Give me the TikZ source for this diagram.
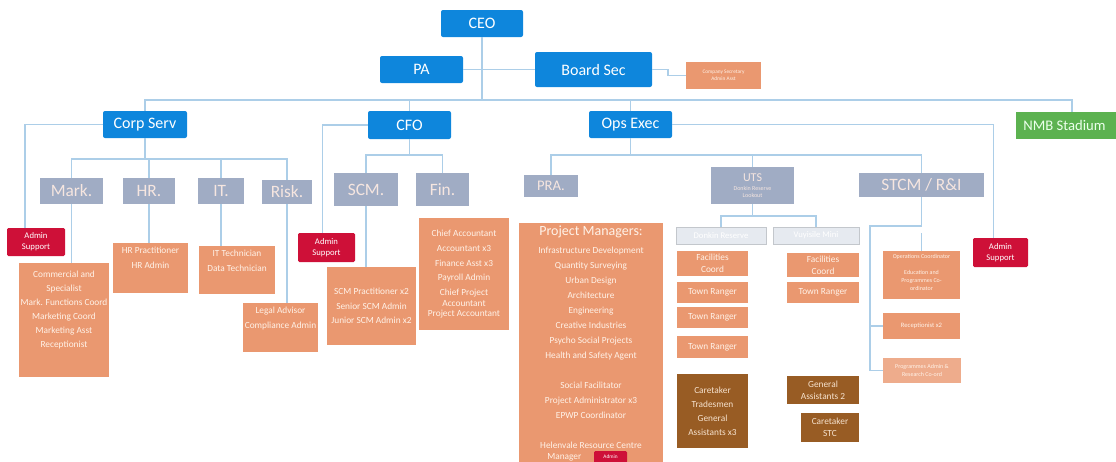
\documentclass[tikz,border=0pt]{standalone}
\usepackage{fontspec}
\setmainfont{Carlito}
\usetikzlibrary{calc}
\definecolor{cblue}{RGB}{14,134,220}
\definecolor{cgray}{RGB}{160,172,196}
\definecolor{cgraytxt}{RGB}{246,230,224}
\definecolor{corange}{RGB}{234,152,112}
\definecolor{corangel}{RGB}{238,172,140}
\definecolor{corangetxt}{RGB}{255,242,232}
\definecolor{cred}{RGB}{206,16,56}
\definecolor{cgreen}{RGB}{92,178,80}
\definecolor{cbrown}{RGB}{152,92,36}
\definecolor{cbrowntxt}{RGB}{246,226,206}
\definecolor{cpale}{RGB}{230,234,240}
\definecolor{cline}{RGB}{172,206,232}
\newcommand\bx[7]{\node[#2, minimum width={(#5-#3)*0.75pt}, minimum height={(#6-#4)*0.75pt}] (#1) at ({(#3+#5)/2},{(#4+#6)/2}) {#7};}
\tikzset{
  base/.style={rectangle, inner sep=1pt, outer sep=0pt, align=center},
  bluebox/.style={base, fill=cblue, text=white, rounded corners=1.5pt, font=\fontsize{12}{14}\selectfont},
  graybox/.style={base, fill=cgray, text=cgraytxt, font=\fontsize{13}{15}\selectfont},
  orangebox/.style={base, fill=corange, text=corangetxt, font=\fontsize{7}{9}\selectfont},
  redbox/.style={base, fill=cred, text=white, rounded corners=1pt, font=\fontsize{6.5}{8}\selectfont},
  greenbox/.style={base, fill=cgreen, text=white!92!green, font=\fontsize{12}{14}\selectfont},
  brownbox/.style={base, fill=cbrown, text=cbrowntxt, font=\fontsize{7}{9}\selectfont},
  palebox/.style={base, fill=cpale, draw=cpale!85!black, line width=0.3pt, text=white, font=\fontsize{6.5}{8}\selectfont},
  otext/.style={anchor=north, inner sep=0pt, align=center, text=corangetxt, font=\fontsize{7}{11}\selectfont},
  conn/.style={draw=cline, line width=0.9pt}
}
\begin{document}
\begin{tikzpicture}[x=0.75pt,y=-0.75pt]
\useasboundingbox (0,0) rectangle (1116,461);
\clip (0,0) rectangle (1116,461);
% top level
\bx{ceo}{bluebox}{441}{10}{523}{37}{CEO}
\bx{pa}{bluebox}{380}{56}{463}{83}{PA}
\bx{bs}{bluebox}{535}{52}{652}{87}{Board Sec}
\bx{cosec}{orangebox,font=\fontsize{4}{5}\selectfont}{686}{62}{761}{89}{Company Secretary\\Admin Asst}
\bx{cs}{bluebox}{103}{111}{187}{138}{Corp Serv}
\bx{cfo}{bluebox}{368}{111}{451}{139}{CFO}
\bx{ops}{bluebox}{589}{111}{672}{138}{Ops Exec}
\bx{nmb}{greenbox}{1016}{112}{1135}{139}{}
\node[anchor=west, inner sep=0pt, text=white!92!green, font=\fontsize{11}{13}\selectfont] (nmb-t) at (1023,125.5) {NMB Stadium};
% second level
\bx{mark}{graybox}{40}{178}{103}{204}{Mark.}
\bx{hr}{graybox}{123}{178}{175}{204}{HR.}
\bx{it}{graybox}{198}{178}{244}{204}{IT.}
\bx{risk}{graybox}{262}{180}{312}{204}{Risk.}
\bx{scm}{graybox}{334}{173}{398}{206}{SCM.}
\bx{fin}{graybox}{416}{173}{469}{206}{Fin.}
\bx{pra}{graybox,font=\fontsize{11}{13}\selectfont}{524}{175}{578}{197}{PRA.}
\bx{uts}{graybox,font=\fontsize{4.5}{5.5}\selectfont}{711}{167}{794}{204}{\fontsize{9}{9}\selectfont UTS\\[1pt]Donkin Reserve\\Lookout}
\bx{stcm}{graybox}{859}{173}{984}{197}{STCM / R\&I}
% admin support
\bx{adm1}{redbox}{7}{228}{65}{256}{Admin\\Support}
\bx{adm2}{redbox}{298}{233}{355}{262}{Admin\\Support}
\bx{adm3}{redbox}{973}{238}{1028}{267}{Admin\\Support}
% orange list boxes
\bx{mkbox}{orangebox}{19}{263}{109}{377}{}
\node[otext, font=\fontsize{7}{10.5}\selectfont] (mkbox-t) at ($(mkbox.north)+(0,8)$) {Commercial and\\Specialist\\Mark. Functions Coord\\Marketing Coord\\Marketing Asst\\Receptionist};
\bx{hrbox}{orangebox}{113}{243}{188}{293}{}
\node[otext] (hrbox-t) at ($(hrbox.north)+(0,4)$) {HR Practitioner\\HR Admin};
\bx{itbox}{orangebox}{199}{246}{275}{294}{}
\node[otext] (itbox-t) at ($(itbox.north)+(0,4)$) {IT Technician\\Data Technician};
\bx{riskbox}{orangebox}{243}{303}{318}{352}{}
\node[otext] (riskbox-t) at ($(riskbox.north)+(0,4)$) {Legal Advisor\\Compliance Admin};
\bx{scmbox}{orangebox,font=\fontsize{7}{11}\selectfont}{327}{267}{416}{345}{SCM Practitioner x2\\Senior SCM Admin\\Junior SCM Admin x2}
\bx{finbox}{orangebox}{419}{218}{509}{330}{}
\node[otext] (finbox-t) at ($(finbox.north)+(0,12)$) {Chief Accountant\\Accountant x3\\Finance Asst x3\\Payroll Admin\\Chief Project\\[-3pt]Accountant\\[-3pt]Project Accountant};
\bx{prabox}{orangebox}{519}{223}{663}{475}{}
\node[otext, font=\fontsize{7}{11.25}\selectfont] (prabox-t) at ($(prabox.north)+(0,3)$) {{\fontsize{10.5}{12}\selectfont Project Managers:}\\[2pt] Infrastructure Development\\ Quantity Surveying\\ Urban Design\\ Architecture\\ Engineering\\ Creative Industries\\ Psycho Social Projects\\ Health and Safety Agent\\[11.25pt] Social Facilitator\\ Project Administrator x3\\ EPWP Coordinator\\[11.25pt] Helenvale Resource Centre\\[-3pt] Manager\hspace*{40pt}};
\bx{pratag}{redbox,font=\fontsize{4}{5}\selectfont}{594}{451}{627}{463}{Admin}
% UTS
\bx{h1}{palebox}{676}{227}{766}{244}{Donkin Reserve}
\bx{h2}{palebox}{773}{227}{859}{244}{Vuyisile Mini}
\bx{fc1}{orangebox}{677}{251}{748}{276}{Facilities\\Coord}
\bx{tr1}{orangebox}{677}{282}{748}{303}{Town Ranger}
\bx{tr2}{orangebox}{677}{307}{748}{328}{Town Ranger}
\bx{tr3}{orangebox}{677}{336}{748}{358}{Town Ranger}
\bx{ct1}{brownbox,font=\fontsize{7}{10.5}\selectfont}{677}{374}{748}{448}{Caretaker\\Tradesmen\\General\\Assistants x3}
\bx{fc2}{orangebox}{787}{253}{859}{277}{Facilities\\Coord}
\bx{tr4}{orangebox}{787}{282}{859}{303}{Town Ranger}
\bx{ga}{brownbox}{787}{376}{859}{404}{General\\Assistants 2}
\bx{cstc}{brownbox}{801}{413}{859}{442}{Caretaker\\STC}
% STCM
\bx{sb1}{orangebox}{883}{251}{960}{299}{}
\node[otext, font=\fontsize{4.5}{6}\selectfont] (sb1-t) at ($(sb1.north)+(0,3)$) {Operations Coordinator\\[6pt]Education and\\Programmes Co-\\ordinator};
\bx{sb2}{orangebox,font=\fontsize{5}{6}\selectfont}{883}{313}{960}{339}{Receptionist x2}
\bx{sb3}{orangebox,fill=corangel,font=\fontsize{4.5}{6}\selectfont}{883}{358}{961}{383}{Programmes Admin \&\\Research Co-ord}
% connectors: top
\draw[conn] (ceo.south) -- (ceo.south |- 0,100);
\draw[conn] (cs.north) -- (cs.north |- 0,100) -- (1072,100) -- (nmb.north -| 1072,0);
\draw[conn] (cfo.north) -- (cfo.north |- 0,100);
\draw[conn] (ops.north) -- (ops.north |- 0,100);
\draw[conn] (pa.east) -- (bs.west);
\draw[conn] (bs.east) -- ++(16,0) |- (cosec.west);
% admin supports
\draw[conn] (cs.west) -| ($(adm1.north)+(-11,0)$);
\draw[conn] (cfo.west) -| ($(adm2.north)+(-4,0)$);
\draw[conn] (ops.east) -| ($(adm3.north)+(-7,0)$);
% corp serv
\draw[conn] (cs.south) -- (cs.south |- 0,159);
\draw[conn] (mark.north) |- (risk.north |- 0,159) -- (risk.north);
\draw[conn] (hr.north) -- (hr.north |- 0,159);
\draw[conn] (it.north) -- (it.north |- 0,159);
\draw[conn] (mark.south) -- (mark.south |- mkbox.north);
\draw[conn] (hr.south) -- (hr.south |- hrbox.north);
\draw[conn] (it.south) -- (it.south |- itbox.north);
\draw[conn] (risk.south) -- (risk.south |- riskbox.north);
% cfo
\draw[conn] (cfo.south) -- (cfo.south |- 0,155);
\draw[conn] (scm.north) |- (fin.north |- 0,155) -- (fin.north);
\draw[conn] (scm.south) -- (scm.south |- scmbox.north);
\draw[conn] ($(fin.south)+(21,0)$) -- ($(fin.south)+(21,0)$ |- finbox.north);
% ops
\draw[conn] (ops.south) -- (ops.south |- 0,155);
\draw[conn] (pra.north) |- (stcm.north |- 0,155) -- (stcm.north);
\draw[conn] (uts.north) -- (uts.north |- 0,155);
% uts
\draw[conn] (uts.south) -- (uts.south |- 0,216);
\draw[conn] (h1.north) |- (h2.north |- 0,216) -- (h2.north);
% stcm
\draw[conn] (stcm.south) -- (stcm.south |- 0,226) -- (870,226) |- (sb3.west);
\draw[conn] (sb2.west -| 870,0) -- (sb2.west);
\draw[conn] (sb1.north) -- ++(0,-18);
\end{tikzpicture}
\end{document}
